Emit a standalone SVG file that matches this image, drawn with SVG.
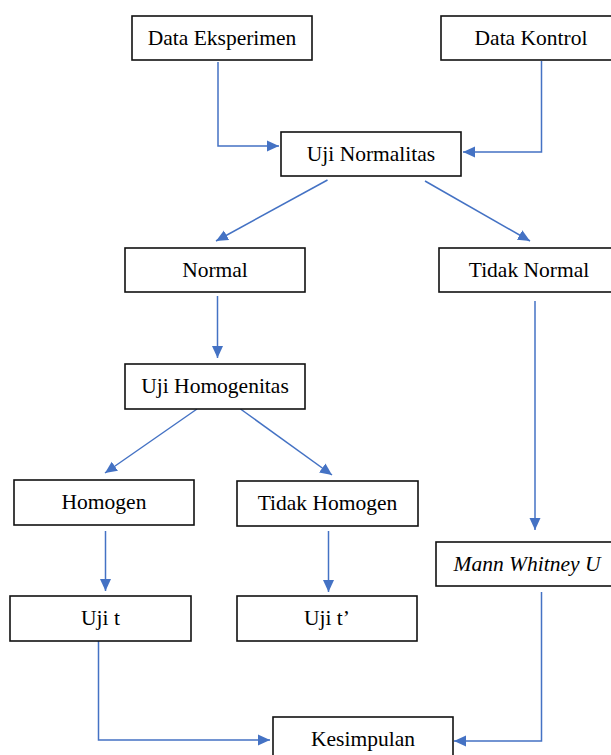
<svg xmlns="http://www.w3.org/2000/svg" width="611" height="755" viewBox="0 0 611 755">
<defs>
<marker id="ah" markerUnits="userSpaceOnUse" markerWidth="12" markerHeight="12" viewBox="0 0 12 12" refX="12" refY="6" orient="auto">
<path d="M0,0.5 L12,6 L0,11.5 z" fill="#4472C4"/>
</marker>
<style>
.box{fill:#fff;stroke:#111;stroke-width:1.6}
.t{font-family:'Liberation Serif','Times New Roman','DejaVu Serif',serif;font-size:21.5px;fill:#000;text-anchor:middle}
.c{fill:none;stroke:#4472C4;stroke-width:1.5;marker-end:url(#ah)}
</style>
</defs>
<rect width="611" height="755" fill="#fff"/>
<g id="connectors">
<path class="c" d="M218,62 V146 H279"/>
<path class="c" d="M541.5,61 V152 H463"/>
<path class="c" d="M327.5,180 L216,241"/>
<path class="c" d="M425,181 L530,241"/>
<path class="c" d="M217.5,296 V358"/>
<path class="c" d="M535,301 V530"/>
<path class="c" d="M197,409 L105,473"/>
<path class="c" d="M240.5,409 L332,475"/>
<path class="c" d="M105.5,531 V591"/>
<path class="c" d="M328.5,531 V592"/>
<path class="c" d="M98.5,641 V740 H270"/>
<path class="c" d="M541.5,592 V741 H454"/>
</g>
<g font-family="Liberation Serif, Times New Roman, serif">
<g id="data-eksperimen"><rect class="box" x="132" y="16" width="180" height="44"/><text class="t" x="222" y="45">Data Eksperimen</text></g>
<g id="data-kontrol"><rect class="box" x="441" y="16" width="180" height="44"/><text class="t" x="531" y="45">Data Kontrol</text></g>
<g id="uji-normalitas"><rect class="box" x="281" y="132" width="180" height="44"/><text class="t" x="371" y="160.5">Uji Normalitas</text></g>
<g id="normal"><rect class="box" x="125" y="248" width="180" height="44"/><text class="t" x="215" y="276.5">Normal</text></g>
<g id="tidak-normal"><rect class="box" x="439" y="248" width="180" height="44"/><text class="t" x="529" y="276.5">Tidak Normal</text></g>
<g id="uji-homogenitas"><rect class="box" x="125" y="364" width="180" height="45"/><text class="t" x="215" y="393">Uji Homogenitas</text></g>
<g id="homogen"><rect class="box" x="14" y="480" width="180" height="45"/><text class="t" x="104" y="508.5">Homogen</text></g>
<g id="tidak-homogen"><rect class="box" x="237" y="481" width="181" height="45"/><text class="t" x="327.5" y="509.5">Tidak Homogen</text></g>
<g id="mann-whitney"><rect class="box" x="436" y="542" width="182" height="44"/><text class="t" x="527" y="570.5" font-style="italic">Mann Whitney U</text></g>
<g id="uji-t"><rect class="box" x="10" y="596" width="181" height="45"/><text class="t" x="100.5" y="624.5">Uji t</text></g>
<g id="uji-t-aksen"><rect class="box" x="237" y="596" width="180" height="45"/><text class="t" x="327" y="624.5">Uji t’</text></g>
<g id="kesimpulan"><rect class="box" x="273" y="717" width="180" height="45"/><text class="t" x="363" y="745.5">Kesimpulan</text></g>
</g>
</svg>
